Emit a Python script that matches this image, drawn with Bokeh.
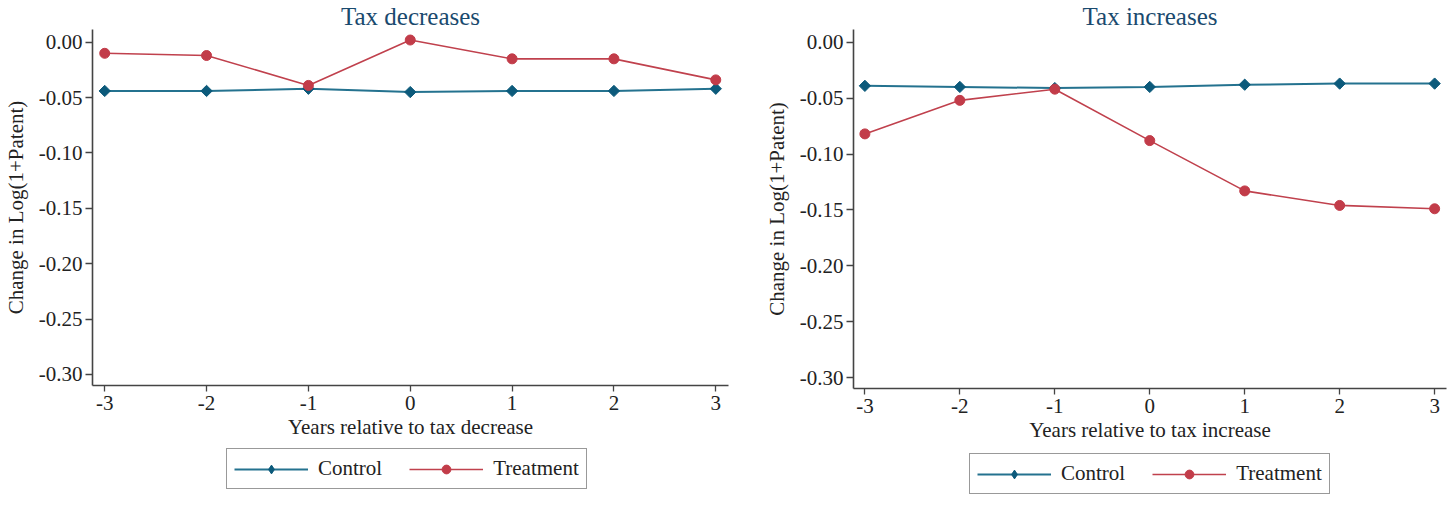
from bokeh.plotting import figure
from bokeh.layouts import row, column
from bokeh.models import Legend, LegendItem, FixedTicker, Range1d
from bokeh.embed import file_html
from bokeh.resources import INLINE
import math

years = [-3, -2, -1, 0, 1, 2, 3]
x_tick_labels = ["-3", "-2", "-1", "0", "1", "2", "3"]
y_ticks = [0.0, -0.05, -0.10, -0.15, -0.20, -0.25, -0.30]
y_tick_labels = ["0.00", "-0.05", "-0.10", "-0.15", "-0.20", "-0.25", "-0.30"]

dec_control = [-0.044, -0.044, -0.042, -0.045, -0.044, -0.044, -0.042]
dec_treatment = [-0.010, -0.012, -0.039, 0.002, -0.015, -0.015, -0.034]
inc_control = [-0.039, -0.040, -0.041, -0.040, -0.038, -0.037, -0.037]
inc_treatment = [-0.082, -0.052, -0.042, -0.088, -0.133, -0.146, -0.149]

FONT = "Liberation Serif"
CTRL_LINE = "#24728f"
CTRL_MARK = "#0c5a7b"
TREAT_LINE = "#c0414d"
TREAT_MARK = "#c23c49"


def draw_series(p, ctrl, treat, legend_style=False):
    cl = p.line(years, ctrl, line_color=CTRL_LINE, line_width=2)
    if legend_style:
        cm = p.scatter(years, ctrl, marker="diamond", size=13,
                       fill_color=CTRL_MARK, line_color=CTRL_MARK)
    else:
        cm = p.scatter(years, ctrl, marker="square", size=8, angle=math.pi / 4,
                       fill_color=CTRL_MARK, line_color=CTRL_MARK)
    tl = p.line(years, treat, line_color=TREAT_LINE, line_width=1.6)
    tm = p.scatter(years, treat, marker="circle", size=10,
                   fill_color=TREAT_MARK, line_color=TREAT_MARK)
    return cl, cm, tl, tm


def panel(title, xlabel, ctrl, treat, fw, fh, bl, br, bt, bb, yr):
    p = figure(frame_width=fw, frame_height=fh, min_border_left=bl,
               min_border_right=br, min_border_top=bt, min_border_bottom=bb,
               x_range=Range1d(-3.12, 3.125), y_range=Range1d(yr[0], yr[1]),
               output_backend="svg", toolbar_location=None,
               title=title)
    p.outline_line_color = None
    p.grid.visible = False
    p.background_fill_color = "white"
    p.border_fill_color = "white"

    p.title.align = "center"
    p.title.text_font = FONT
    p.title.text_font_size = "25px"
    p.title.text_font_style = "normal"
    p.title.text_color = "#1a4a6e"
    p.title.standoff = 0
    p.title.offset = 0

    for ax in (p.xaxis[0], p.yaxis[0]):
        ax.axis_line_color = "#444444"
        ax.axis_line_width = 1.6
        ax.major_tick_line_color = "#444444"
        ax.major_tick_line_width = 1.3
        ax.minor_tick_line_color = None
        ax.major_tick_in = 0
        ax.major_label_text_font = FONT
        ax.major_label_text_font_size = "21px"
        ax.major_label_text_color = "#222222"
        ax.axis_label_text_font = FONT
        ax.axis_label_text_font_size = "21px"
        ax.axis_label_text_font_style = "normal"
        ax.axis_label_text_color = "#222222"

    p.xaxis.ticker = FixedTicker(ticks=years)
    p.xaxis.major_label_overrides = {y: l for y, l in zip(years, x_tick_labels)}
    p.xaxis.major_tick_out = 6
    p.xaxis.major_label_standoff = 4
    p.xaxis.axis_label = xlabel
    p.xaxis.axis_label_standoff = 2

    p.yaxis.ticker = FixedTicker(ticks=y_ticks)
    p.yaxis.major_label_overrides = {y: l for y, l in zip(y_ticks, y_tick_labels)}
    p.yaxis.major_tick_out = 7
    p.yaxis.major_label_standoff = 3
    p.yaxis.major_label_orientation = "horizontal"
    p.yaxis.axis_label = "Change in Log(1+Patent)"
    p.yaxis.axis_label_standoff = 8

    draw_series(p, ctrl, treat)
    return p


def legend_fig(w, h, ctrl, treat, loc):
    # Same series, drawn outside the visible y range: only the legend shows.
    q = figure(width=w, height=h, min_border_left=0, min_border_right=0,
               min_border_top=0, min_border_bottom=0,
               x_range=Range1d(-3.12, 3.125), y_range=Range1d(10, 11),
               x_axis_location=None, y_axis_location=None,
               output_backend="svg", toolbar_location=None)
    q.outline_line_color = None
    q.grid.visible = False
    q.background_fill_color = "white"
    q.border_fill_color = "white"
    cl, cm, tl, tm = draw_series(q, ctrl, treat, legend_style=True)
    legend = Legend(items=[LegendItem(label="Control", renderers=[cl, cm]),
                           LegendItem(label="Treatment", renderers=[tl, tm])],
                    orientation="horizontal", location=loc)
    legend.label_text_font = FONT
    legend.label_text_font_size = "21px"
    legend.label_text_color = "#222222"
    legend.glyph_width = 74
    legend.glyph_height = 22
    legend.label_standoff = 10
    legend.spacing = 27
    legend.padding = 7
    legend.margin = 0
    legend.border_line_color = "#333333"
    legend.border_line_width = 1.3
    legend.background_fill_alpha = 1
    q.add_layout(legend)
    return q


p1 = panel("Tax decreases", "Years relative to tax decrease",
           dec_control, dec_treatment, 636, 356, 82, 20, 24, 60,
           (-0.310, 0.0115))
p2 = panel("Tax increases", "Years relative to tax increase",
           inc_control, inc_treatment, 593, 359, 105, 2, 25, 60,
           (-0.3098, 0.0114))
l1 = legend_fig(738, 50, dec_control, dec_treatment, (134, 6))
l2 = legend_fig(700, 50, inc_control, inc_treatment, (116, 4))

layout = row(column(p1, l1, spacing=0), column(p2, l2, spacing=0), spacing=0)
open("out.html", "w").write(file_html(layout, INLINE))
